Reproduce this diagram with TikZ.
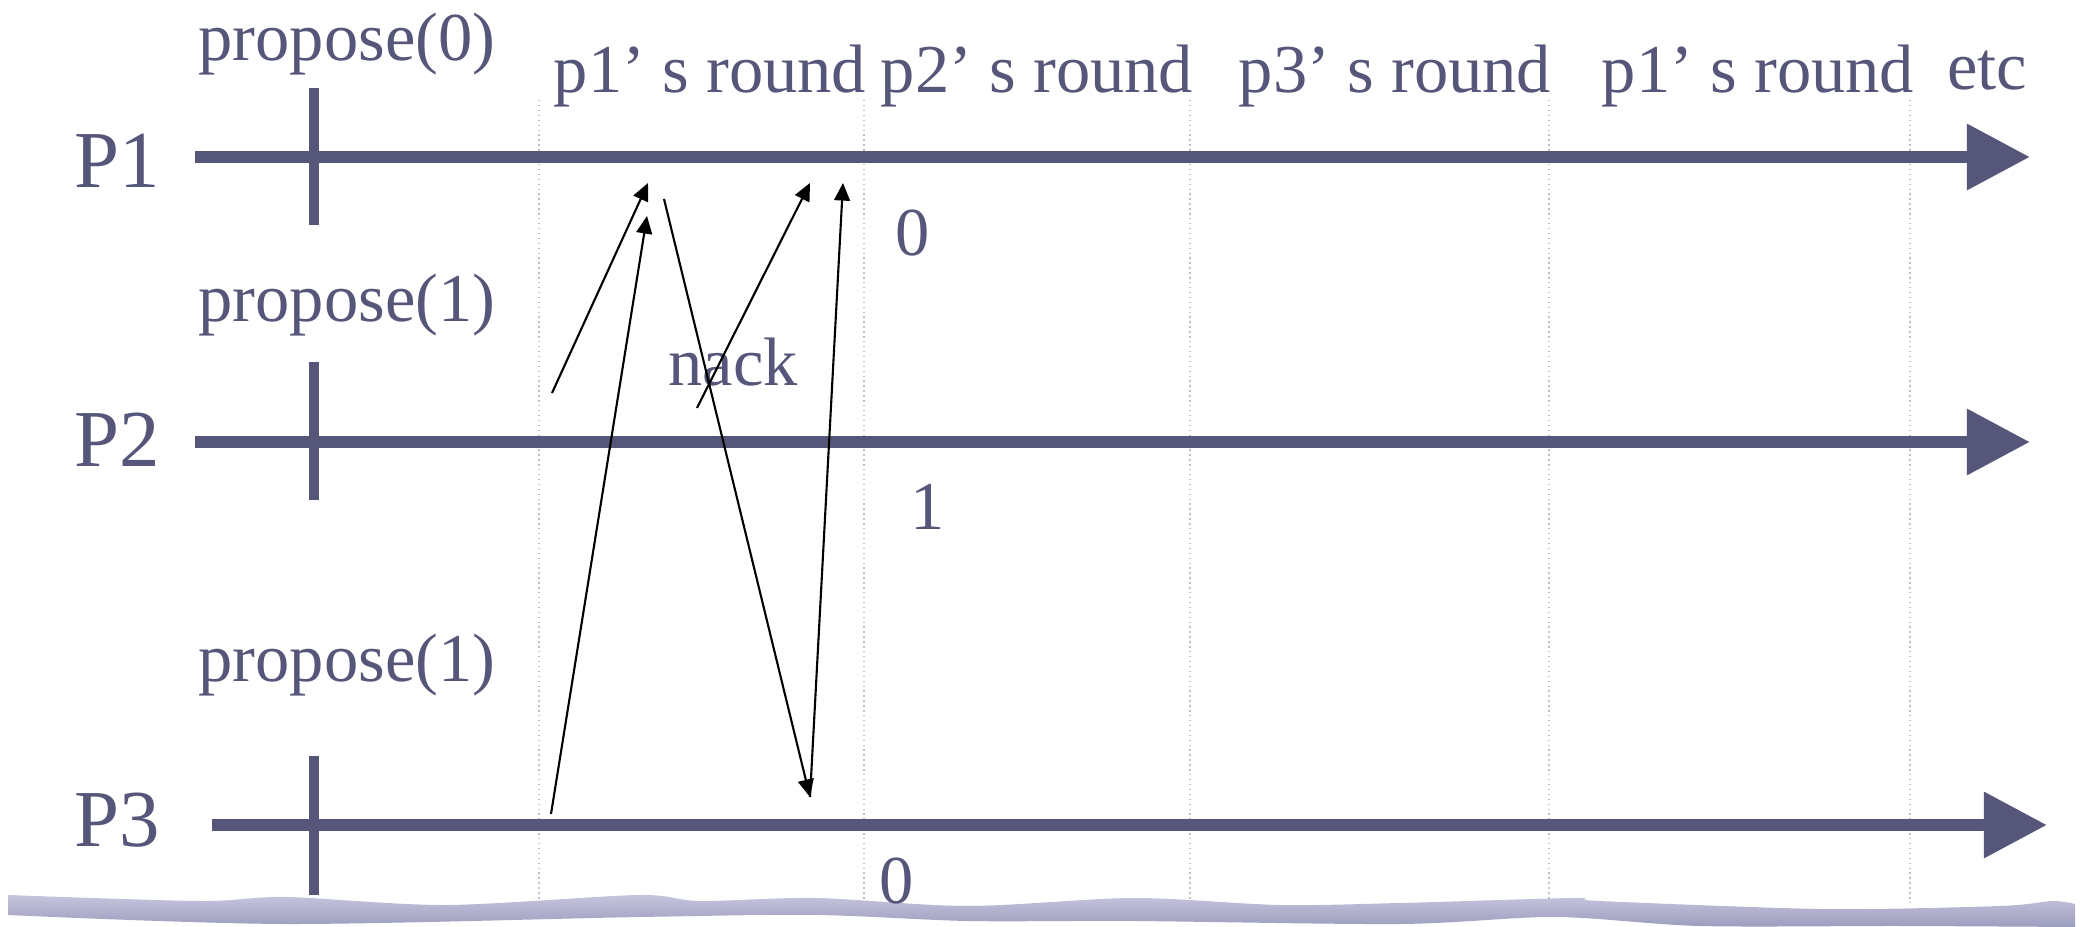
\documentclass[tikz,border=0pt]{standalone}
\usepackage{fontspec}
\setmainfont{Liberation Serif}
\usetikzlibrary{arrows.meta}
\definecolor{slate}{HTML}{56567A}
\definecolor{wavetop}{HTML}{C6C6DE}
\definecolor{wavebot}{HTML}{9C9CBE}

\begin{document}
\begin{tikzpicture}[x=0.1mm,y=-0.1mm,
  txt/.style={text=slate,font=\fontsize{19.5}{22}\selectfont,anchor=base,inner sep=0pt},
  proc/.style={txt,font=\fontsize{23}{26}\selectfont},
  timeline/.style={slate,line width=3.6pt,-{Triangle[length=18pt,width=18pt]}},
  tickline/.style={slate,line width=2.6pt},
  roundline/.style={gray!50,line width=0.4pt,dash pattern=on 0.4pt off 1pt},
  msg/.style={black,line width=0.6pt,-{Triangle[length=5pt,width=4.5pt]}}]

\useasboundingbox (0,0) rectangle (2080,927);

\shade[top color=wavetop,bottom color=wavebot]
  plot[smooth] coordinates {(8,895) (200,901) (286,897) (446,905) (638,895) (700,901) (816,898) (968,906) (1133,898) (1280,905) (1400,903) (1574,898) (1600,901) (1824,909) (2000,906) (2052,901) (2075,904)}
  -- plot[smooth] coordinates {(2075,927) (1900,926) (1700,926) (1555,917) (1400,924) (1133,921) (968,921) (816,915) (640,917) (286,924) (8,915)}
  -- cycle;

\foreach \x in {539,864,1190,1549,1910}
  \draw[roundline] (\x,100) -- (\x,905);

\coordinate (s1) at (195,157);
\coordinate (e1) at (2030,157);
\coordinate (s2) at (195,442);
\coordinate (e2) at (2030,442);
\coordinate (s3) at (212,825);
\coordinate (e3) at (2047,825);

\coordinate (t1a) at (314,88);
\coordinate (t1b) at (314,225);
\coordinate (t2a) at (314,362);
\coordinate (t2b) at (314,500);
\coordinate (t3a) at (314,756);
\coordinate (t3b) at (314,895);

\draw[timeline] (s1) -- (e1);
\draw[timeline] (s2) -- (e2);
\draw[timeline] (s3) -- (e3);
\draw[tickline] (t1a) -- (t1b);
\draw[tickline] (t2a) -- (t2b);
\draw[tickline] (t3a) -- (t3b);

\node[proc] (p1) at (117,188) {P1};
\node[proc] (p2) at (117,467) {P2};
\node[proc] (p3) at (117,846) {P3};

\node[txt] (prop1) at (347,61) {propose(0)};
\node[txt] (prop2) at (347,322) {propose(1)};
\node[txt] (prop3) at (347,682) {propose(1)};

\node[txt] (r1) at (710,93) {p1’ s round};
\node[txt] (r2) at (1037,93) {p2’ s round};
\node[txt] (r3) at (1395,93) {p3’ s round};
\node[txt] (r4) at (1758,93) {p1’ s round};
\node[txt] (etc) at (1987,90) {etc};

\node[txt] (d1) at (913,256) {0};
\node[txt] (d2) at (928,530) {1};
\node[txt] (d3) at (897,903) {0};
\node[txt] (nack) at (733,386) {nack};

\coordinate (m1s) at (552,393);
\coordinate (m1e) at (648,183);
\coordinate (m2s) at (551,814);
\coordinate (m2e) at (647,216);
\coordinate (m3s) at (664,199);
\coordinate (m3e) at (810,797);
\coordinate (m4s) at (697,408);
\coordinate (m4e) at (810,183);
\coordinate (m5e) at (843,183);

\draw[msg] (m1s) -- (m1e);
\draw[msg] (m2s) -- (m2e);
\draw[msg] (m3s) -- (m3e);
\draw[msg] (m4s) -- (m4e);
\draw[msg] (m3e) -- (m5e);

\end{tikzpicture}
\end{document}
